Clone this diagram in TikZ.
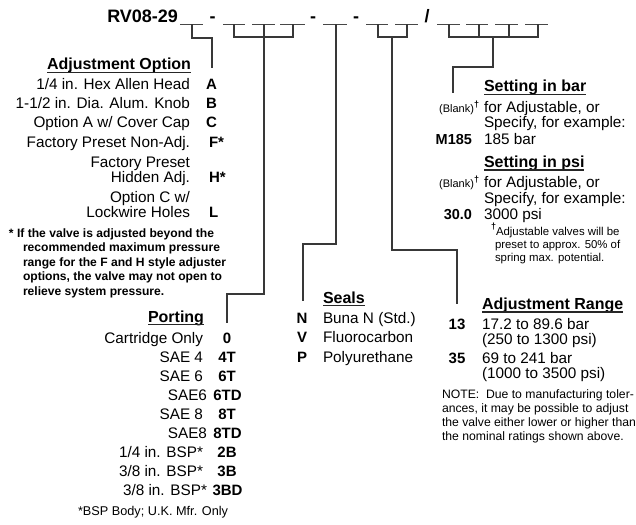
\documentclass[tikz,border=0pt]{standalone}
\usepackage{fontspec}
\setmainfont{Liberation Sans}
\begin{document}
\begin{tikzpicture}[x=1pt,y=-1pt,
  every node/.style={inner sep=0pt, outer sep=0pt, text=black},
  txt/.style={font=\fontsize{15.3}{18}\selectfont},
  hd/.style={font=\fontsize{16}{18}\selectfont\bfseries},
  cd/.style={font=\fontsize{15}{18}\selectfont\bfseries},
  cds/.style={font=\fontsize{14.5}{18}\selectfont\bfseries},
  fn/.style={font=\fontsize{12.1}{14}\selectfont\bfseries},
  nt/.style={font=\fontsize{12.2}{14}\selectfont},
  sm/.style={font=\fontsize{11.4}{13}\selectfont},
  blk/.style={font=\fontsize{11}{12}\selectfont},
  ttl/.style={font=\fontsize{18}{20}\selectfont\bfseries},
  be/.style={anchor=base east}, bw/.style={anchor=base west}, bc/.style={anchor=base},
  conn/.style={draw=black!78, line width=1.3pt},
  blank/.style={draw=black!72, line width=1.3pt},
  uline/.style={draw=black!85, line width=1.3pt}]
\fill[white] (0,0) rectangle (636,524);
\useasboundingbox (0,0) rectangle (636,524);
\newcommand{\dg}{\raisebox{0.45em}{\fontsize{9}{9}\selectfont\bfseries †}}

% title and blanks
\node[ttl,be] (title) at (178,23) {RV08-29};
\node[ttl,bc] (d1) at (212.5,23) {-};
\node[ttl,bc] (d2) at (313,23) {-};
\node[ttl,bc] (d3) at (356,23) {-};
\node[ttl,bc] (sl) at (427,23) {/};
\foreach \a/\b in {180/203, 223/245, 252/275, 280/305, 323/347, 366/388, 395/418, 437/460, 466/488, 495/518, 525/548}
  \draw[blank] (\a,24.5) -- (\b,24.5);

% connector coordinates
\coordinate (u1) at (192,24.5);
\coordinate (j1) at (212,38);
\coordinate (t1) at (212,68);
\coordinate (u2a) at (234,24.5);
\coordinate (u2b) at (264,24.5);
\coordinate (u2c) at (293,24.5);
\coordinate (j2) at (264,37);
\coordinate (k2) at (227,294);
\coordinate (t2) at (227,323);
\coordinate (u3) at (336,24.5);
\coordinate (k3) at (303,244);
\coordinate (t3) at (303,301);
\coordinate (u4a) at (378,24.5);
\coordinate (u4b) at (407,24.5);
\coordinate (j4) at (392,37);
\coordinate (k4) at (457,250);
\coordinate (t4) at (457,304);
\coordinate (u5a) at (449,24.5);
\coordinate (u5b) at (479,24.5);
\coordinate (u5c) at (509,24.5);
\coordinate (u5d) at (538,24.5);
\coordinate (j5) at (493,37);
\coordinate (k5) at (453,67);
\coordinate (t5) at (453,93);

\draw[conn] (u1) |- (j1) -- (t1);
\draw[conn] (u2a) |- (u2c|-j2) -- (u2c);
\draw[conn] (u2b) |- (k2) -- (t2);
\draw[conn] (u3) |- (k3) -- (t3);
\draw[conn] (u4a) |- (u4b|-j4) -- (u4b);
\draw[conn] (j4) |- (k4) -- (t4);
\draw[conn] (u5a) |- (u5d|-j5) -- (u5d);
\draw[conn] (u5b) -- (u5b|-j5);
\draw[conn] (u5c) -- (u5c|-j5);
\draw[conn] (j5) |- (k5) -- (t5);

% Adjustment option
\node[hd,be] (hAdj) at (191,70) {Adjustment Option};
\node[txt,be] (a1) at (190,90) {1/4 in. Hex Allen Head};
\node[cd,bw] (cA) at (206,90) {A};
\node[txt,be] (a2) at (190,109) {1-1/2 in. Dia. Alum. Knob};
\node[cd,bw] (cB) at (206,109) {B};
\node[txt,be] (a3) at (190,128) {Option A w/ Cover Cap};
\node[cd,bw] (cC) at (206,128) {C};
\node[txt,be] (a4) at (190,147) {Factory Preset Non-Adj.};
\node[cd,bw] (cF) at (209,147) {F*};
\node[txt,be] (a5) at (190,167) {Factory Preset};
\node[txt,be] (a6) at (190,182) {Hidden Adj.};
\node[cd,bw] (cH) at (209,182) {H*};
\node[txt,be] (a7) at (190,202) {Option C w/};
\node[txt,be] (a8) at (190,217) {Lockwire Holes};
\node[cd,bw] (cL) at (209,217) {L};
\node[fn,bw] (f1) at (9,237) {* If the valve is adjusted beyond the};
\node[fn,bw] (f2) at (23,251.7) {recommended maximum pressure};
\node[fn,bw] (f3) at (23,266) {range for the F and H style adjuster};
\node[fn,bw] (f4) at (23,280.7) {options, the valve may not open to};
\node[fn,bw] (f5) at (23,295) {relieve system pressure.};

% Porting
\node[hd,be] (hPort) at (204,322) {Porting};
\node[txt,be] (p1) at (203,343) {Cartridge Only};
\node[cd,bc] (c0) at (227,343) {0};
\node[txt,be] (p2) at (203,362) {SAE 4};
\node[cd,bc] (c4T) at (227,362) {4T};
\node[txt,be] (p3) at (203,381) {SAE 6};
\node[cd,bc] (c6T) at (227,381) {6T};
\node[txt,be] (p4) at (207,400) {SAE6};
\node[cd,bc] (c6TD) at (227.5,400) {6TD};
\node[txt,be] (p5) at (203,419) {SAE 8};
\node[cd,bc] (c8T) at (227,419) {8T};
\node[txt,be] (p6) at (207,438) {SAE8};
\node[cd,bc] (c8TD) at (227.5,438) {8TD};
\node[txt,be] (p7) at (203,457) {1/4 in. BSP*};
\node[cd,bc] (c2B) at (227,457) {2B};
\node[txt,be] (p8) at (203,476.5) {3/8 in. BSP*};
\node[cd,bc] (c3B) at (227,476.5) {3B};
\node[txt,be] (p9) at (207,495.5) {3/8 in. BSP*};
\node[cd,bc] (c3BD) at (227.5,495.5) {3BD};
\node[font=\fontsize{12.7}{14}\selectfont,bw] (pf) at (78,515) {*BSP Body; U.K. Mfr. Only};

% Seals
\node[hd,bw] (hSeal) at (323,303) {Seals};
\node[cd,bc] (cN) at (302,323.5) {N};
\node[txt,bw] (s1) at (323,323.5) {Buna N (Std.)};
\node[cd,bc] (cV) at (302,342) {V};
\node[txt,bw] (s2) at (323,342) {Fluorocarbon};
\node[cd,bc] (cP) at (302,362) {P};
\node[txt,bw] (s3) at (323,362) {Polyurethane};

% Adjustment range
\node[hd,bw] (hRange) at (482,309.5) {Adjustment Range};
\node[cd,bc] (c13) at (457,329.5) {13};
\node[txt,bw] (r1) at (482,329.5) {17.2 to 89.6 bar};
\node[txt,bw] (r2) at (482,344) {(250 to 1300 psi)};
\node[cd,bc] (c35) at (457,363.5) {35};
\node[txt,bw] (r3) at (482,363.5) {69 to 241 bar};
\node[txt,bw] (r4) at (482,378.5) {(1000 to 3500 psi)};
\node[nt,bw] (n1) at (442,398.5) {NOTE:\ \ Due to manufacturing toler-};
\node[nt,bw] (n2) at (442,412.7) {ances, it may be possible to adjust};
\node[nt,bw] (n3) at (442,426.7) {the valve either lower or higher than};
\node[nt,bw] (n4) at (442,440.7) {the nominal ratings shown above.};

% Setting
\node[hd,bw] (hBar) at (484,92) {Setting in bar};
\node[blk,be] (bl1) at (479,112) {(Blank)\dg};
\node[txt,bw] (sb1) at (484,112) {for Adjustable, or};
\node[txt,bw] (sb2) at (484,128) {Specify, for example:};
\node[cds,be] (cM) at (472,144) {M185};
\node[txt,bw] (sb3) at (484,144) {185 bar};
\node[hd,bw] (hPsi) at (484,167.5) {Setting in psi};
\node[blk,be] (bl2) at (479,187) {(Blank)\dg};
\node[txt,bw] (sp1) at (484,187) {for Adjustable, or};
\node[txt,bw] (sp2) at (484,203) {Specify, for example:};
\node[cds,be] (c30) at (472,219) {30.0};
\node[txt,bw] (sp3) at (484,219) {3000 psi};
\node[sm,bw] (sf1) at (491,235) {\dg Adjustable valves will be};
\node[sm,bw] (sf2) at (495,248.5) {preset to approx. 50\% of};
\node[sm,bw] (sf3) at (495,261.5) {spring max. potential.};

% heading underlines
\foreach \h in {hAdj,hPort,hSeal,hRange,hBar,hPsi}
  \draw[uline] ([yshift=-2.5pt]\h.base west) -- ([yshift=-2.5pt]\h.base east);
\end{tikzpicture}
\end{document}
